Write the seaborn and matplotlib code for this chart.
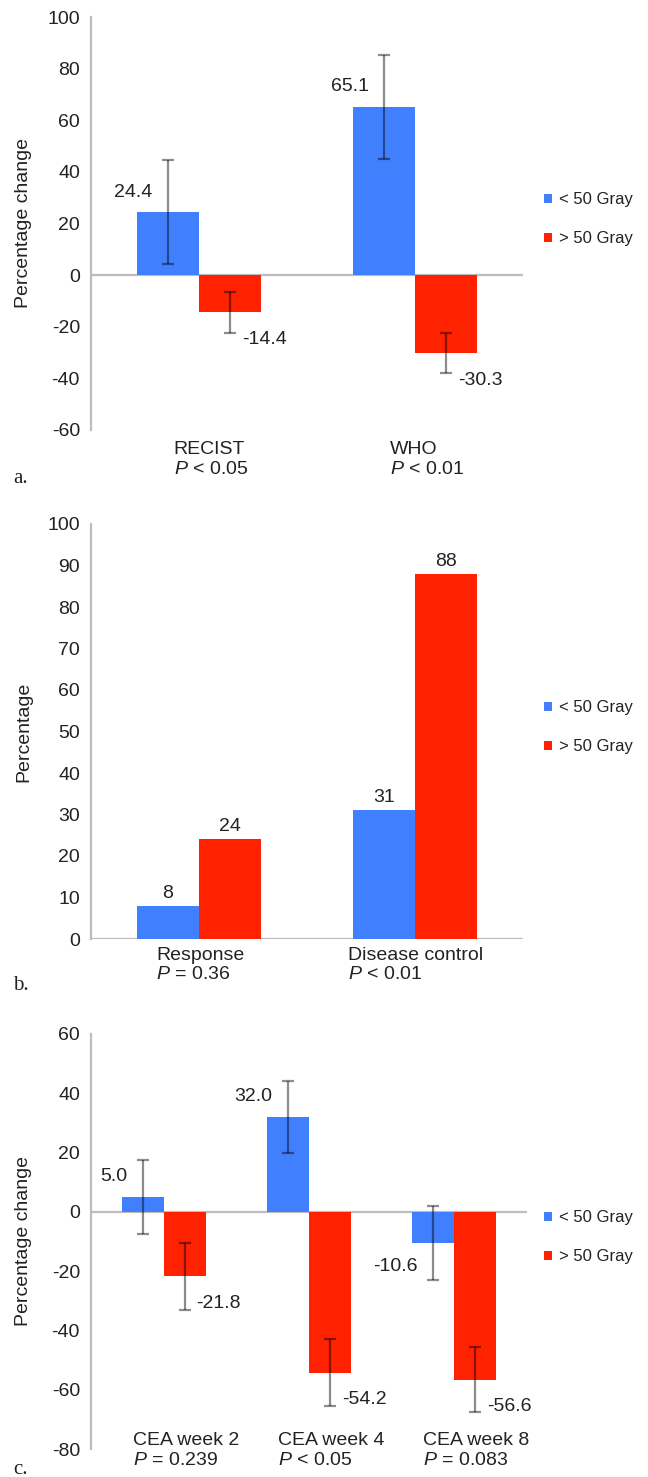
import matplotlib
matplotlib.use("Agg")
import matplotlib.pyplot as plt
import matplotlib.transforms as mtransforms
from matplotlib.patches import Patch
import seaborn as sns
import pandas as pd

# ---------------- data ----------------
groups = ["< 50 Gray", "> 50 Gray"]
colors = ["#4080FF", "#FF2200"]

a_categories = ["RECIST", "WHO"]
a_pvalues = ["< 0.05", "< 0.01"]
a_low = [24.4, 65.1]
a_high = [-14.4, -30.3]
a_low_err = [20.2, 20.2]
a_high_err = [8.0, 7.8]

b_categories = ["Response", "Disease control"]
b_pvalues = ["= 0.36", "< 0.01"]
b_low = [8, 31]
b_high = [24, 88]

c_categories = ["CEA week 2", "CEA week 4", "CEA week 8"]
c_pvalues = ["= 0.239", "< 0.05", "= 0.083"]
c_low = [5.0, 32.0, -10.6]
c_high = [-21.8, -54.2, -56.6]
c_low_err = [12.6, 12.3, 12.5]
c_high_err = [11.2, 11.3, 11.0]

# ---------------- style ----------------
sns.set_theme(style="white")
plt.rcParams["font.family"] = ["Liberation Sans", "DejaVu Sans"]
plt.rcParams["mathtext.fontset"] = "custom"
plt.rcParams["mathtext.it"] = "Liberation Sans:italic"
plt.rcParams["mathtext.rm"] = "Liberation Sans"

TXT = "#222222"
AX = "#BDBDBD"
W, H = 648, 1477
fig = plt.figure(figsize=(W / 100, H / 100), dpi=100)


def px_rect(left, top, right, bottom):
    return [left / W, 1 - bottom / H, (right - left) / W, (bottom - top) / H]


def panel(ax, cats, pvals, low, high, low_err, high_err, ylim, yticks, ylabel,
          width, tick_dx, tick_pad, centered_labels=False):
    n = len(cats)
    df = pd.DataFrame({
        "category": cats * 2,
        "group": [groups[0]] * n + [groups[1]] * n,
        "value": list(low) + list(high),
    })
    sns.barplot(data=df, x="category", y="value", hue="group", order=cats,
                hue_order=groups, palette=colors, width=width, errorbar=None,
                saturation=1, linewidth=0, legend=False, ax=ax, zorder=2)
    ax.set_ylim(*ylim)
    ax.set_xlim(-0.5, n - 0.5)
    ax.axhline(0, color=AX, lw=1.6, zorder=1)

    errs = [low_err, high_err]
    bar_conts = list(ax.containers)
    for gi, cont in enumerate(bar_conts):
        xs = [b.get_x() + b.get_width() / 2 for b in cont]
        vals = [b.get_height() for b in cont]
        if errs[gi] is not None:
            ax.errorbar(xs, vals, yerr=errs[gi], fmt="none",
                        ecolor=(0, 0, 0, 0.45), elinewidth=1.6, capsize=4,
                        capthick=1.6, zorder=3)
        for x, v in zip(xs, vals):
            if centered_labels:
                txt = f"{v:.0f}"
                ax.annotate(txt, (x, v), xytext=(0, 9), textcoords="offset points",
                            ha="center", va="center", fontsize=14, color=TXT)
            else:
                txt = f"{v:.1f}"
                if v >= 0:
                    ax.annotate(txt, (x, v), xytext=(-11, 14.5), textcoords="offset points",
                                ha="right", va="center", fontsize=14, color=TXT)
                elif gi == 0:
                    ax.annotate(txt, (x, v), xytext=(-11, -17), textcoords="offset points",
                                ha="right", va="center", fontsize=14, color=TXT)
                else:
                    ax.annotate(txt, (x, v), xytext=(8.5, -19.5), textcoords="offset points",
                                ha="left", va="center", fontsize=14, color=TXT)

    for s in ["top", "right", "bottom"]:
        ax.spines[s].set_visible(False)
    ax.spines["left"].set_color(AX)
    ax.spines["left"].set_linewidth(1.6)
    ax.set_yticks(yticks)
    ax.set_yticklabels([str(t) for t in yticks])
    ax.tick_params(axis="y", length=3, width=1.5, color=AX, pad=5,
                   labelsize=14, labelcolor=TXT)
    ax.tick_params(axis="x", length=0, pad=tick_pad, labelsize=14, labelcolor=TXT)
    ax.set_xticks(range(n))
    ax.set_xticklabels([f"{c}\n$\\mathit{{P}}$ {p}" for c, p in zip(cats, pvals)],
                       multialignment="left", linespacing=1.2)
    off = mtransforms.ScaledTranslation(tick_dx / 100, 0, fig.dpi_scale_trans)
    for lbl in ax.get_xticklabels():
        lbl.set_transform(lbl.get_transform() + off)
    ax.set_xlabel("")
    ax.set_ylabel(ylabel, fontsize=14, color=TXT)
    ax.grid(False)
    ax.set_facecolor("none")

    handles = [Patch(facecolor=c, edgecolor="none") for c in colors]
    bb = ax.get_position()
    lx = (544 / W - bb.x0) / bb.width
    ax.legend(handles, groups, loc="center left", bbox_to_anchor=(lx, 0.51),
              frameon=False, fontsize=12, handlelength=0.45, handleheight=0.45,
              handletextpad=0.45, labelspacing=1.45, borderaxespad=0, borderpad=0,
              labelcolor=TXT)
    ax.yaxis.set_label_coords((32 / W - bb.x0) / bb.width * 1.0, 0.5)


ax_a = fig.add_axes(px_rect(91, 17, 523, 430))
panel(ax_a, a_categories, a_pvalues, a_low, a_high, a_low_err, a_high_err,
      (-60, 100), list(range(-60, 101, 20)), "Percentage change", 0.574, 12, 8)

ax_b = fig.add_axes(px_rect(91, 524, 523, 939))
panel(ax_b, b_categories, b_pvalues, b_low, b_high, None, None,
      (0, 100), list(range(0, 101, 10)), "Percentage", 0.574, 1, 5.5,
      centered_labels=True)

ax_c = fig.add_axes(px_rect(91, 1034, 527, 1449))
panel(ax_c, c_categories, c_pvalues, c_low, c_high, c_low_err, c_high_err,
      (-80, 60), list(range(-80, 61, 20)), "Percentage change", 0.58, 22, -12)

for lab, ybase in [("a.", 483), ("b.", 990), ("c.", 1474)]:
    fig.text(13 / W, 1 - ybase / H, lab, fontsize=15, color=TXT,
             family=["Liberation Serif", "DejaVu Serif"], va="baseline", ha="left")

fig.savefig("out.png", dpi=100)
